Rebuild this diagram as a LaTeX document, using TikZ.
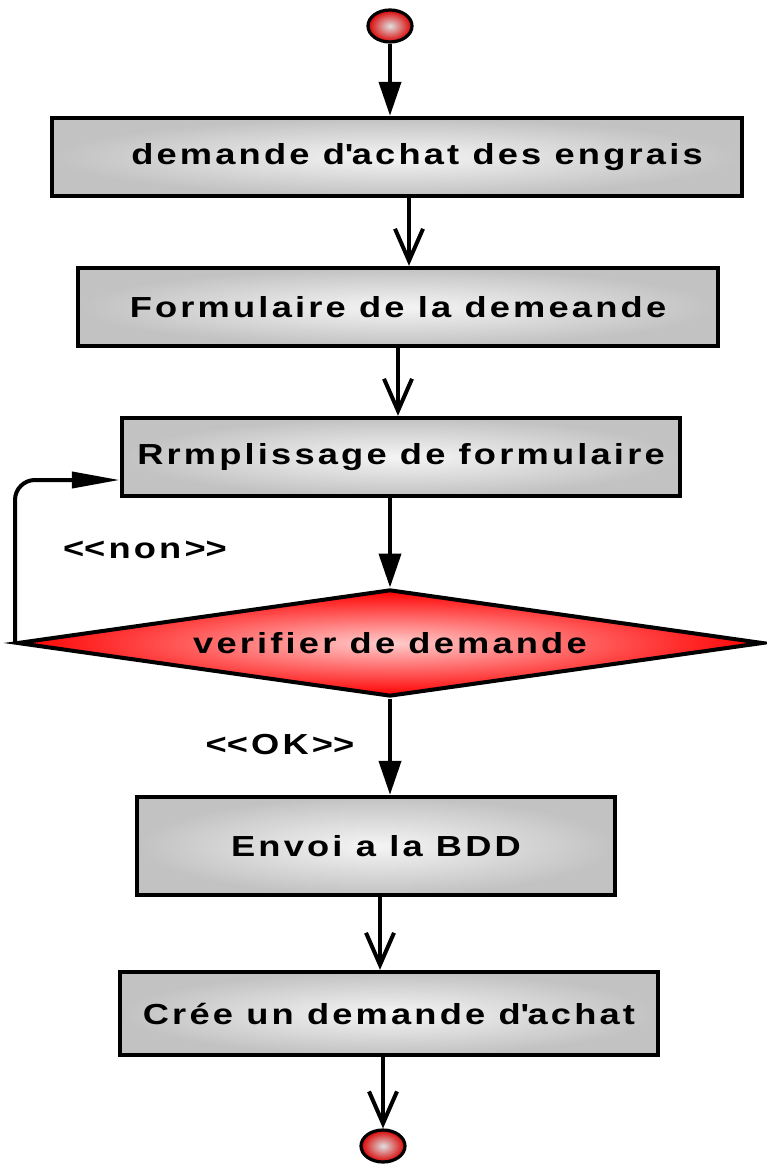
\documentclass[tikz,border=0pt]{standalone}
\usepackage{fontspec}
\setmainfont{Liberation Sans}
\usetikzlibrary{arrows.meta,shapes.geometric}
\newfontfamily\lblfont{Liberation Sans}[FakeStretch=1.25, LetterSpace=11]
\begin{document}
\begin{tikzpicture}[x=0.5pt,y=-0.5pt,
  lbl/.style={font=\lblfont\fontsize{14.5pt}{17pt}\selectfont\bfseries},
  actbox/.style={draw=black, line width=2.2pt, shading=radial, inner color=gray!8, outer color=gray!48, inner sep=0pt, lbl},
  decbox/.style={diamond, aspect=6.97, draw=black, line width=2pt, shading=radial, inner color=red!20, outer color=red, inner sep=0pt, lbl},
  terminal/.style={ellipse, draw=black, line width=1.6pt, shading=radial, inner color=gray!25, outer color=red!85!black, minimum width=22pt, minimum height=16pt, inner sep=0pt},
  guard/.style={lbl},
  solidflow/.style={line width=2pt, -{Triangle[length=17pt,width=11pt]}},
  openflow/.style={line width=2pt, -{Straight Barb[length=16pt,width=14pt,line width=2pt]}},
]
\useasboundingbox (0,0) rectangle (766,1165);

\node[terminal] (start) at (390,26) {};
\node[actbox, minimum width=345pt, minimum height=39pt] (b1) at (397,157) {\hspace*{20pt}demande d\textquotesingle achat des engrais};
\node[actbox, minimum width=320pt, minimum height=39pt] (b2) at (398,307) {Formulaire de la demeande};
\node[actbox, minimum width=279pt, minimum height=39pt] (b3) at (401,457) {Rrmplissage de formulaire};
\node[decbox, minimum width=373pt, minimum height=53.5pt] (dec) at (390,643) {verifier de demande};
\node[actbox, minimum width=239pt, minimum height=49pt] (b5) at (376,846) {Envoi a la BDD};
\node[actbox, minimum width=269pt, minimum height=41.5pt] (b6) at (389,1013.5) {Crée un demande d\textquotesingle achat};
\node[terminal] (end) at (383,1146) {};

\node[guard] (non) at (145,550) {<\kern0pt<non>\kern0pt>};
\node[guard] (ok) at (280,745) {<\kern0pt<OK>\kern0pt>};

\draw[solidflow] (start.south) -- (start.south |- b1.north);
\draw[openflow] ([xshift=6pt]b1.south) -- ([xshift=6pt]b1.south |- b2.north);
\draw[openflow] (b2.south) -- (b2.south |- b3.north);
\draw[solidflow] (dec.north |- b3.south) -- (dec.north);
\draw[line width=2pt, rounded corners=10pt, -{Triangle[length=24pt,width=8pt]}] (dec.west) |- ([yshift=-11.5pt]b3.west);
\draw[solidflow] (dec.south) -- (dec.south |- b5.north);
\draw[openflow] ([xshift=2pt]b5.south) -- ([xshift=2pt]b5.south |- b6.north);
\draw[openflow] (end.north |- b6.south) -- (end.north);
\end{tikzpicture}
\end{document}
